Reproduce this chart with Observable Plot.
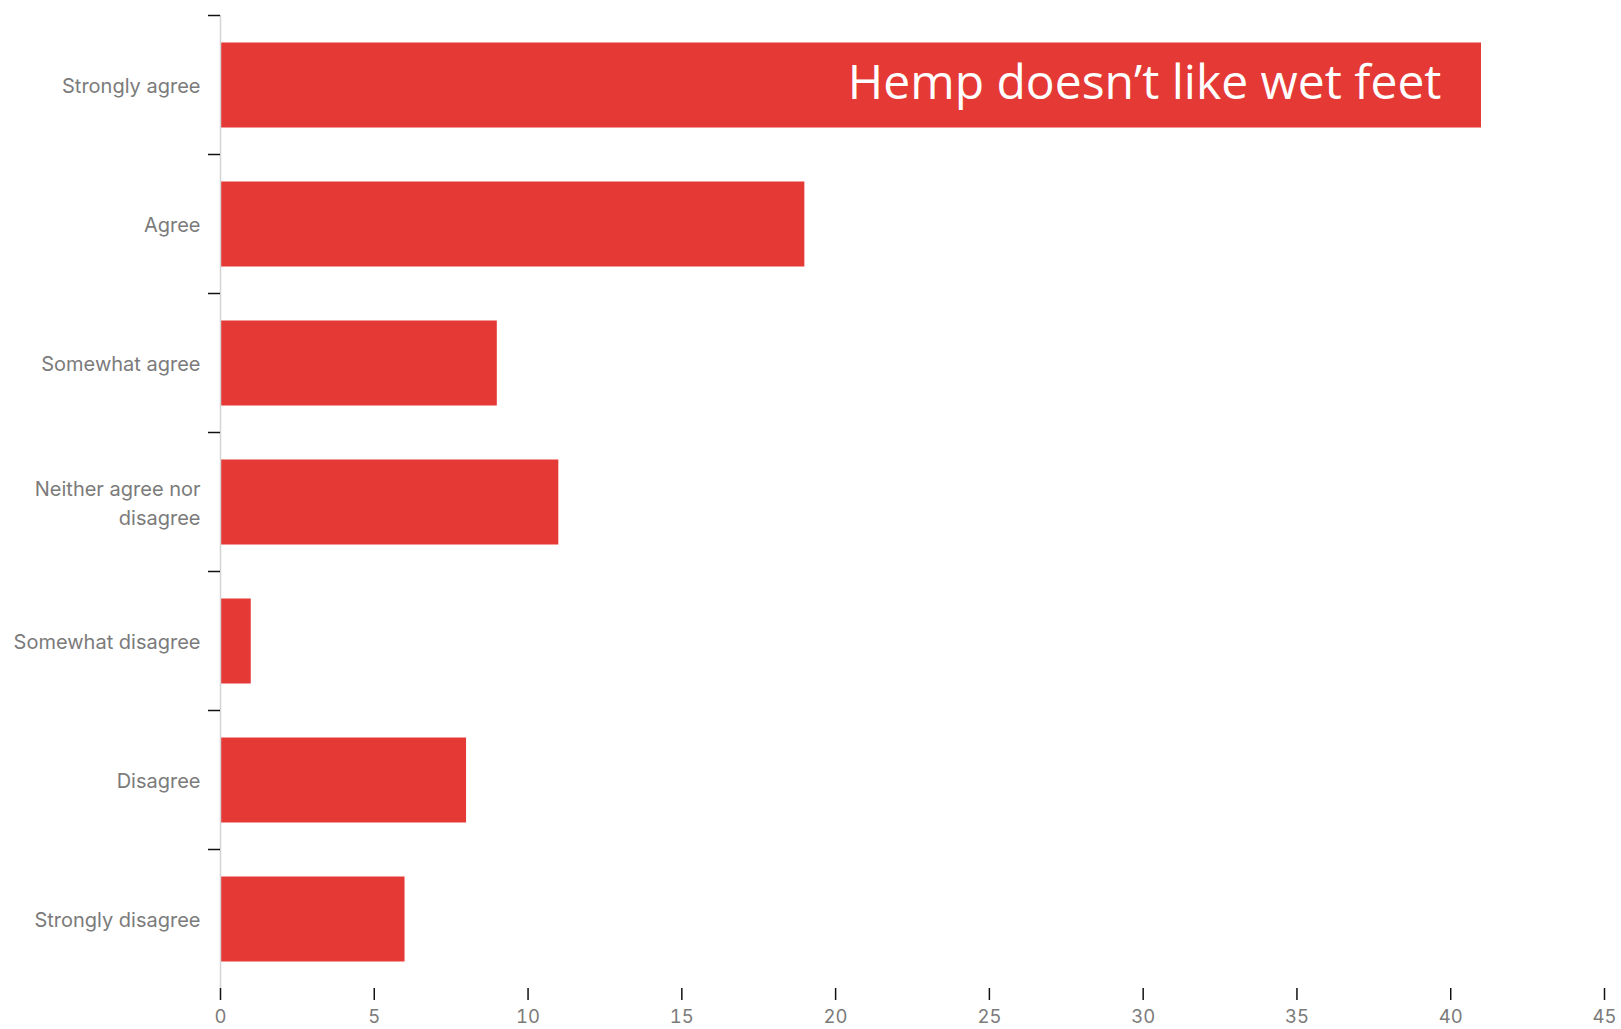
<!DOCTYPE html>
<html>
<head>
<meta charset="utf-8">
<script src="https://cdn.jsdelivr.net/npm/d3@7"></script>
<script src="https://cdn.jsdelivr.net/npm/@observablehq/plot@0.6"></script>
<style>
  html, body { margin: 0; padding: 0; background: #fff; }
  #chart svg { display: block; }
</style>
</head>
<body>
<div id="chart"></div>
<script>
const categories = ["Strongly agree", "Agree", "Somewhat agree", "Neither agree nor disagree", "Somewhat disagree", "Disagree", "Strongly disagree"];
const tickLabels = ["Strongly agree", "Agree", "Somewhat agree", "Neither agree nor\ndisagree", "Somewhat disagree", "Disagree", "Strongly disagree"];
const values = [41, 19, 9, 11, 1, 8, 6];
const xTicks = [0, 5, 10, 15, 20, 25, 30, 35, 40, 45];
const annotationText = "Hemp doesn\u2019t like wet feet";

const data = categories.map((c, i) => ({category: c, value: values[i]}));
const labelOf = new Map(categories.map((c, i) => [c, tickLabels[i]]));

const W = 1621, H = 1029;
const mTop = 15, mBottom = 41, mLeft = 220, mRight = 17;
const step = (H - mTop - mBottom) / categories.length;
const red = "#e53935";
const gray = "#7b7b7b";

const chart = Plot.plot({
  width: W,
  height: H,
  marginTop: mTop,
  marginBottom: mBottom,
  marginLeft: mLeft,
  marginRight: mRight,
  style: {fontFamily: "Inter, 'Liberation Sans', sans-serif", background: "#fff"},
  x: {domain: [0, 45]},
  y: {domain: categories, paddingInner: 0.385, paddingOuter: 0.1925},
  marks: [
    Plot.barX(data, {x: "value", y: "category", fill: red, dy: 0.5}),
    Plot.ruleX([0], {stroke: "#d4d4d4", strokeWidth: 1.5}),
    Plot.axisX({ticks: xTicks, tickSize: 0, tickFormat: () => "", line: true, stroke: "#d4d4d4", strokeWidth: 1.5}),
    Plot.axisX({ticks: xTicks, tickSize: 12, tickPadding: 9, stroke: "#111", strokeWidth: 1.5, fill: gray, fontSize: 18.5, label: null}),
    Plot.axisY({tickSize: 0, tickPadding: 20, tickFormat: d => labelOf.get(d), fill: gray, fontSize: 20, lineHeight: 1.45, label: null, dy: -1}),
    Plot.axisY({tickSize: 12, tickFormat: () => "", stroke: "#111", strokeWidth: 1.5, dy: -step / 2, label: null}),
    Plot.text([{x: values[0], y: categories[0], t: annotationText}], {
      x: "x", y: "y", text: "t", textAnchor: "end", dx: -40, dy: -1,
      fill: "white", fontSize: 48, fontFamily: "'Open Sans', Lato, sans-serif"
    })
  ]
});
document.getElementById("chart").appendChild(chart);
</script>
</body>
</html>
